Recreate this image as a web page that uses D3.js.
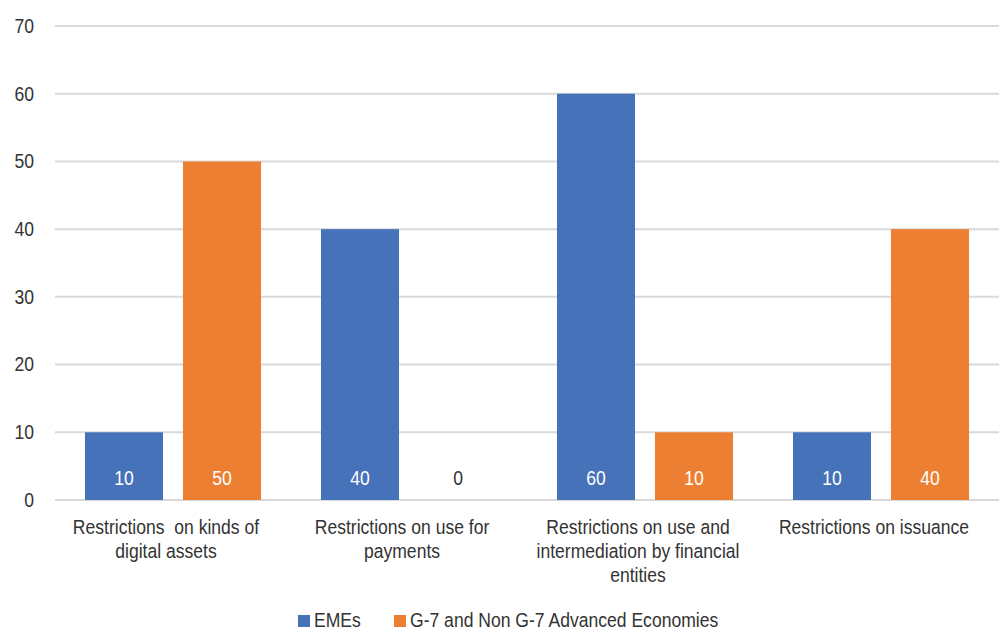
<!DOCTYPE html>
<html><head><meta charset="utf-8">
<script src="https://cdn.jsdelivr.net/npm/d3@7/dist/d3.min.js"></script>
<style>body{margin:0;background:#fff;} text{font-family:"Liberation Sans",Arial,sans-serif;}</style>
</head><body><svg id="c" width="1003" height="631"></svg>
<script>
const categories = [
  ["Restrictions  on kinds of", "digital assets"],
  ["Restrictions on use for", "payments"],
  ["Restrictions on use and", "intermediation by financial", "entities"],
  ["Restrictions on issuance"]
];
const seriesNames = ["EMEs", "G-7 and Non G-7 Advanced Economies"];
const emes = [10, 40, 60, 10];
const advanced = [50, 0, 10, 40];
const yTicks = [0, 10, 20, 30, 40, 50, 60, 70];
const colors = ["#4672B9", "#ED7F32"];

const FS = 19.5, SX = 0.9;
const svg = d3.select("#c");
const mLeft = 55, mRight = 999, mTop = 26, mBottom = 500;
const seriesVals = [emes, advanced];
const x0 = d3.scaleBand().domain(d3.range(categories.length)).range([mLeft, mRight]).padding(0);
const x1 = d3.scaleBand().domain(d3.range(seriesNames.length)).range([0, x0.bandwidth()])
  .paddingInner(0.204).paddingOuter(0.306);
const y = d3.scaleLinear().domain([0, 70]).range([mBottom, mTop]);

function tr(x, yy) { return `translate(${x},${yy}) scale(${SX},1)`; }

// gridlines
svg.append("g").selectAll("line").data(yTicks).join("line")
  .attr("x1", mLeft).attr("x2", mRight)
  .attr("y1", d => y(d)).attr("y2", d => y(d))
  .attr("stroke", "#d9d9d9").attr("stroke-width", 2);

// y axis labels
svg.append("g").selectAll("text").data(yTicks).join("text")
  .attr("transform", d => tr(34, y(d))).attr("dy", "0.35em")
  .attr("text-anchor", "end").attr("font-size", FS).attr("fill", "#333")
  .text(d => d);

// bars
seriesVals.forEach((vals, s) => {
  const g = svg.append("g");
  g.selectAll("rect").data(vals).join("rect")
    .attr("x", (d, i) => x0(i) + x1(s)).attr("width", x1.bandwidth())
    .attr("y", d => y(d)).attr("height", d => y(0) - y(d))
    .attr("fill", colors[s]);
  g.selectAll("text").data(vals).join("text")
    .attr("transform", (d, i) => tr(x0(i) + x1(s) + x1.bandwidth() / 2, y(0) - 15))
    .attr("text-anchor", "middle").attr("font-size", FS)
    .attr("fill", d => d > 0 ? "#fff" : "#333")
    .text(d => d);
});

// category labels
const cl = svg.append("g");
categories.forEach((lines, i) => {
  const t = cl.append("text").attr("transform", tr(x0(i) + x0.bandwidth() / 2 - 7, 0))
    .attr("text-anchor", "middle").attr("font-size", FS).attr("fill", "#333");
  lines.forEach((ln, k) => t.append("tspan").attr("x", 0)
    .attr("y", 534 + k * 24).attr("xml:space", "preserve").text(ln));
});

// legend
const legX = [298, 394];
const lg = svg.append("g");
seriesNames.forEach((n, s) => {
  lg.append("rect").attr("x", legX[s]).attr("y", 615).attr("width", 12).attr("height", 12).attr("fill", colors[s]);
  lg.append("text").attr("transform", tr(legX[s] + 16, 620.5)).attr("dy", "0.35em")
    .attr("font-size", FS).attr("fill", "#333").text(n);
});
</script></body></html>
